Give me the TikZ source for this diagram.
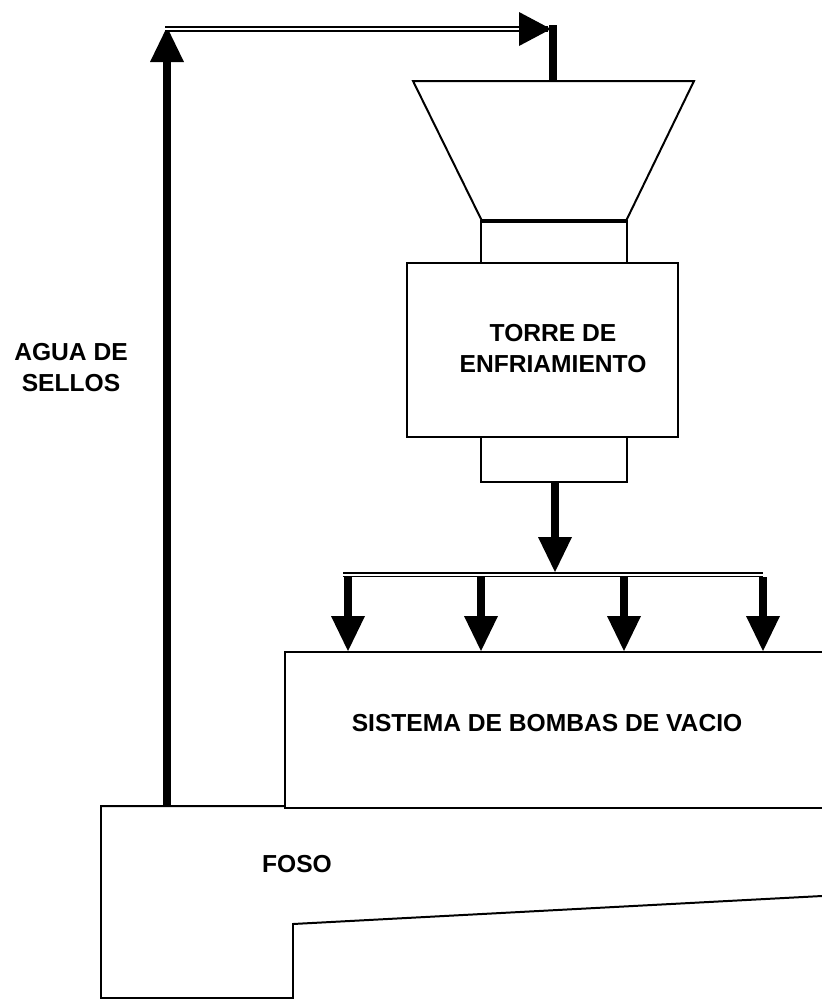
\documentclass[tikz,border=0pt]{standalone}
\usepackage{fontspec}
\setmainfont{Liberation Sans}
\usetikzlibrary{arrows.meta}
\tikzset{
  linea/.style={line width=1.7pt},
  caja/.style={draw,linea,rectangle,inner sep=0pt},
  tubo/.style={line width=6.8pt},
  flecha/.style={tubo,-{Triangle[length=10.5mm,width=10.2mm,line width=0pt]}},
  doble/.style={double,line width=1.7pt,double distance=1.7pt},
  texto/.style={align=center,inner sep=0pt,font=\fontsize{21pt}{26.4pt}\selectfont\bfseries}
}
\begin{document}
\begin{tikzpicture}[x=0.3mm,y=-0.3mm]
\useasboundingbox (0,0) rectangle (822,999);
\clip (0,0) rectangle (822,999);
% torre de enfriamiento
\draw[linea] (413,81) -- (694,81) -- (626,221) -- (482,221) -- cycle;
\draw[line width=3.4pt] (482,221) -- (626,221);
\coordinate (tolva) at (553,81);
\node[caja,minimum width=43.8mm,minimum height=12.6mm] (cuello) at (554,242) {};
\node[caja,minimum width=81.3mm,minimum height=52.2mm] (torre) at (542.5,350) {};
\node[caja,minimum width=43.8mm,minimum height=13.5mm] (base) at (554,459.5) {};
\node[texto] (torretxt) at (553,348.5) {TORRE DE\\ENFRIAMIENTO};
% bombas y foso
\node[caja,minimum width=163.5mm,minimum height=46.8mm] (bombas) at (557.5,730) {};
\node[texto] (bombastxt) at (547,723.5) {SISTEMA DE BOMBAS DE VACIO};
\draw[linea] (285,806) -- (101,806) -- (101,998) -- (293,998) -- (293,924) -- (822,896);
\node[texto] (foso) at (297,864.5) {FOSO};
% agua de sellos
\coordinate (salida) at (167,806);
\coordinate (codo) at (167,27);
\draw[flecha] (salida) -- (codo);
\node[texto] (sellos) at (71,367.5) {AGUA DE\\SELLOS};
\draw[doble] (165,29) -- (548,29);
\fill (519,12) -- (551,29) -- (519,46) -- cycle;
\draw[tubo] (553,25) -- (tolva);
% reparto a las bombas
\coordinate (reparto) at (555,572);
\draw[flecha] (base.south -| reparto) -- (reparto);
\draw[doble] (343,574.5) -- (763,574.5);
\foreach \x in {348,481,624,763}
  \draw[flecha] (\x,577) -- (\x,0 |- bombas.north);
\end{tikzpicture}
\end{document}
